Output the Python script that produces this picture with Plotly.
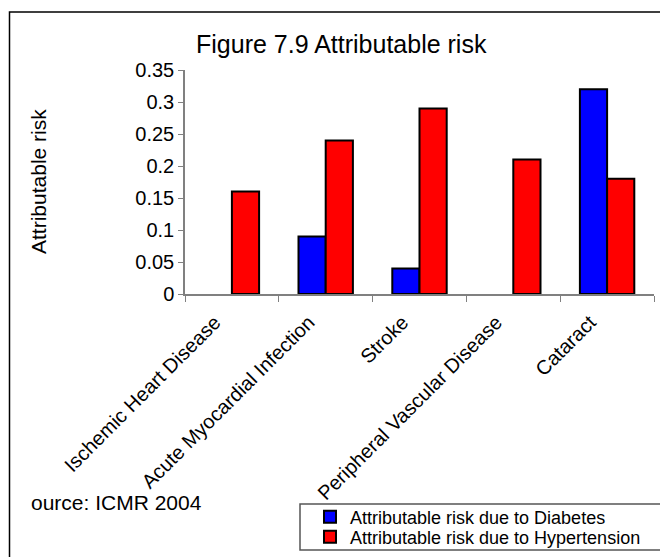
import plotly.graph_objects as go

categories = ["Ischemic Heart Disease", "Acute Myocardial Infection", "Stroke",
              "Peripheral Vascular Disease", "Cataract"]
# None = no bar drawn in the source (zero / not reported)
diabetes = [None, 0.09, 0.04, None, 0.32]
hypertension = [0.16, 0.24, 0.29, 0.21, 0.18]
y_ticks = [0, 0.05, 0.1, 0.15, 0.2, 0.25, 0.3, 0.35]
y_ticktext = ["0", "0.05", "0.1", "0.15", "0.2", "0.25", "0.3", "0.35"]

W, H = 660, 557
L, R, T, B = 185, 6, 70, 263
PW, PH = W - L - R, H - T - B

def px(x):
    return (x - L) / PW

def py(y):
    return (H - B - y) / PH

FONT = "Liberation Sans, Arial, sans-serif"

fig = go.Figure()
fig.add_trace(go.Bar(x=categories, y=diabetes, name="Attributable risk due to Diabetes",
                     legend="legend",
                     marker=dict(color="#0000ff", line=dict(color="black", width=2))))
fig.add_trace(go.Bar(x=categories, y=hypertension, name="Attributable risk due to Hypertension",
                     legend="legend2",
                     marker=dict(color="#ff0000", line=dict(color="black", width=2))))

leg_common = dict(xanchor="left", yanchor="middle", font=dict(size=18, family=FONT),
                  bgcolor="rgba(0,0,0,0)", borderwidth=0)

fig.update_layout(
    width=W, height=H,
    margin=dict(l=L, r=R, t=T, b=B, autoexpand=False),
    paper_bgcolor="white", plot_bgcolor="white",
    font=dict(family=FONT, color="black"),
    barmode="group", bargap=0.42, bargroupgap=0,
    showlegend=True,
    legend=dict(x=px(310), y=py(517), **leg_common),
    legend2=dict(x=px(310), y=py(537), **leg_common),
    xaxis=dict(showgrid=False, showline=True, linecolor="#808080", linewidth=1.5,
               ticks="outside", tickson="boundaries", ticklen=6, tickcolor="#808080",
               tickangle=-45, tickfont=dict(size=20, family=FONT), automargin=False,
               ticklabelshift=-17, ticklabelstandoff=7),
    yaxis=dict(range=[0, 0.35], showgrid=False, showline=True, linecolor="#808080",
               linewidth=1.5, ticks="outside", ticklen=5, tickcolor="#808080",
               tickvals=y_ticks, ticktext=y_ticktext, zeroline=False,
               tickfont=dict(size=20, family=FONT), automargin=False),
    annotations=[
        dict(text="Figure 7.9 Attributable risk", x=px(341), y=py(44), xref="paper", yref="paper",
             xanchor="center", yanchor="middle", showarrow=False, font=dict(size=25, family=FONT)),
        dict(text="Attributable risk", x=px(38), y=py(182), xref="paper", yref="paper",
             xanchor="center", yanchor="middle", textangle=-90, showarrow=False,
             font=dict(size=21, family=FONT)),
        dict(text="ource: ICMR 2004", x=px(29), y=py(502), xref="paper", yref="paper",
             xanchor="left", yanchor="middle", showarrow=False, font=dict(size=21, family=FONT)),
    ],
    shapes=[
        dict(type="rect", xref="paper", yref="paper", x0=px(9.5), x1=px(675), y0=py(12), y1=py(575),
             line=dict(color="black", width=1.5), fillcolor="rgba(0,0,0,0)", layer="below"),
        dict(type="rect", xref="paper", yref="paper", x0=px(300), x1=px(675), y0=py(504), y1=py(550),
             line=dict(color="#555555", width=1.5), fillcolor="rgba(0,0,0,0)", layer="below"),
    ],
)

fig.write_html("out.html")
